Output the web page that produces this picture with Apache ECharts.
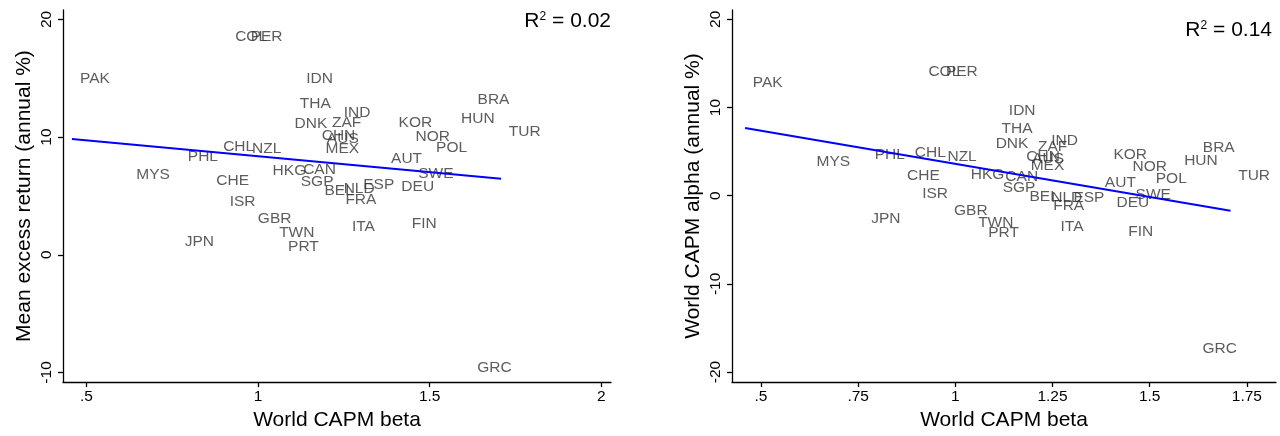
<!DOCTYPE html>
<html>
<head>
<meta charset="utf-8">
<script src="https://cdn.jsdelivr.net/npm/echarts@6/dist/echarts.min.js"></script>
<style>
html,body{margin:0;padding:0;background:#fff;}
#chart{width:1280px;height:436px;}
</style>
</head>
<body>
<div id="chart"></div>
<script>
const countries = ['PAK','COL','PER','IDN','THA','IND','DNK','ZAF','CHN','AUS','MEX','KOR','NOR','BRA','HUN','TUR','POL','AUT','SWE','DEU','ESP','FRA','BEL','NLD','ITA','FIN','TWN','PRT','GBR','ISR','JPN','GRC','CHL','NZL','PHL','MYS','CHE','HKG','CAN','SGP'];
const beta = [0.458,0.910,0.955,1.117,1.098,1.226,1.083,1.192,1.162,1.177,1.173,1.386,1.435,1.616,1.568,1.707,1.495,1.364,1.443,1.394,1.283,1.231,1.170,1.226,1.250,1.424,1.038,1.064,0.976,0.894,0.763,1.615,0.875,0.959,0.772,0.622,0.855,1.019,1.108,1.101];
const excessReturn = [14.98,18.50,18.50,14.94,12.85,12.03,11.10,11.19,10.09,9.84,9.00,11.25,10.03,13.15,11.53,10.49,9.06,8.15,6.89,5.82,5.99,4.64,5.48,5.62,2.39,2.67,1.91,0.71,3.04,4.50,1.13,-9.64,9.14,9.00,8.35,6.83,6.32,7.12,7.23,6.19];
const alpha = [12.79,14.07,14.04,9.65,7.57,6.24,5.87,5.53,4.46,4.20,3.41,4.65,3.26,5.41,4.01,2.30,1.90,1.51,0.11,-0.83,-0.19,-1.14,-0.08,-0.26,-3.55,-4.12,-3.03,-4.23,-1.67,0.19,-2.61,-17.40,4.91,4.46,4.65,3.89,2.27,2.38,2.12,0.94];
// fitted lines (endpoints)
const fitReturn = [[0.458, 9.84], [1.708, 6.47]];
const fitAlpha = [[0.459, 7.68], [1.708, -1.70]];
const r2Return = '0.02';
const r2Alpha = '0.14';
const xTicksLeft = [0.5, 1, 1.5, 2];
const yTicksLeft = [-10, 0, 10, 20];
const xTicksRight = [0.5, 0.75, 1, 1.25, 1.5, 1.75];
const yTicksRight = [-20, -10, 0, 10, 20];

const FONT = "'Liberation Sans', Arial, sans-serif";
const fmtX = v => String(v).replace(/^0\./, '.').replace(/^-0\./, '-.');

function xAxis(gi, min, max, ticks) {
  return {
    type: 'value', gridIndex: gi, min: min, max: max,
    name: 'World CAPM beta', nameLocation: 'middle', nameGap: 27,
    nameTextStyle: {fontFamily: FONT, fontSize: 21, color: '#000'},
    axisLine: {show: true, onZero: false, lineStyle: {color: '#000', width: 1.3}},
    axisTick: {show: true, length: 5, customValues: ticks, lineStyle: {color: '#000', width: 1.3}},
    axisLabel: {show: true, customValues: ticks, formatter: fmtX, margin: 7, fontFamily: FONT, fontSize: 15.5, color: '#000'},
    splitLine: {show: false}
  };
}
function yAxis(gi, min, max, ticks, name, gap) {
  return {
    type: 'value', gridIndex: gi, min: min, max: max,
    name: name, nameLocation: 'middle', nameGap: gap, nameRotate: 90,
    nameTextStyle: {fontFamily: FONT, fontSize: 21, color: '#000'},
    axisLine: {show: true, onZero: false, lineStyle: {color: '#000', width: 1.3}},
    axisTick: {show: true, length: 5, customValues: ticks, lineStyle: {color: '#000', width: 1.3}},
    axisLabel: {show: true, customValues: ticks, rotate: 90, margin: 8, fontFamily: FONT, fontSize: 15.5, color: '#000'},
    splitLine: {show: false}
  };
}
function pts(ys) {
  return countries.map((c, i) => ({name: c, value: [beta[i], ys[i]]}));
}
const labelStyle = {
  show: true, position: 'right', distance: 8, formatter: p => p.name,
  fontFamily: FONT, fontSize: 15.5, color: '#333'
};
function r2Text(x, y, val) {
  return {
    type: 'text', x: x, y: y, z: 10,
    style: {
      text: '{r|R}{s|2}{r| = ' + val + '}',
      align: 'right', verticalAlign: 'middle',
      rich: {
        r: {fontFamily: FONT, fontSize: 21, fill: '#000'},
        s: {fontFamily: FONT, fontSize: 12, fill: '#000', verticalAlign: 'top'}
      }
    }
  };
}

const chart = echarts.init(document.getElementById('chart'), null, {renderer: 'canvas'});
chart.setOption({
  animation: false,
  backgroundColor: '#fff',
  grid: [
    {left: 63, top: 10, width: 548, height: 375},
    {left: 732, top: 10, width: 544, height: 372}
  ],
  xAxis: [xAxis(0, 0.432, 2.028, xTicksLeft), xAxis(1, 0.4254, 1.825, xTicksRight)],
  yAxis: [
    yAxis(0, -10.82, 20.8, yTicksLeft, 'Mean excess return (annual %)', 28),
    yAxis(1, -21.13, 21.06, yTicksRight, 'World CAPM alpha (annual %)', 28)
  ],
  series: [
    {type: 'scatter', xAxisIndex: 0, yAxisIndex: 0, symbolSize: 0.1, itemStyle: {color: 'rgba(0,0,0,0)'}, label: labelStyle, data: pts(excessReturn), z: 3},
    {type: 'line', xAxisIndex: 0, yAxisIndex: 0, data: fitReturn, symbol: 'none', lineStyle: {color: '#0000ff', width: 2}, z: 4},
    {type: 'scatter', xAxisIndex: 1, yAxisIndex: 1, symbolSize: 0.1, itemStyle: {color: 'rgba(0,0,0,0)'}, label: labelStyle, data: pts(alpha), z: 3},
    {type: 'line', xAxisIndex: 1, yAxisIndex: 1, data: fitAlpha, symbol: 'none', lineStyle: {color: '#0000ff', width: 2}, z: 4}
  ],
  graphic: [r2Text(611, 21, r2Return), r2Text(1272, 30, r2Alpha)]
});
</script>
</body>
</html>
